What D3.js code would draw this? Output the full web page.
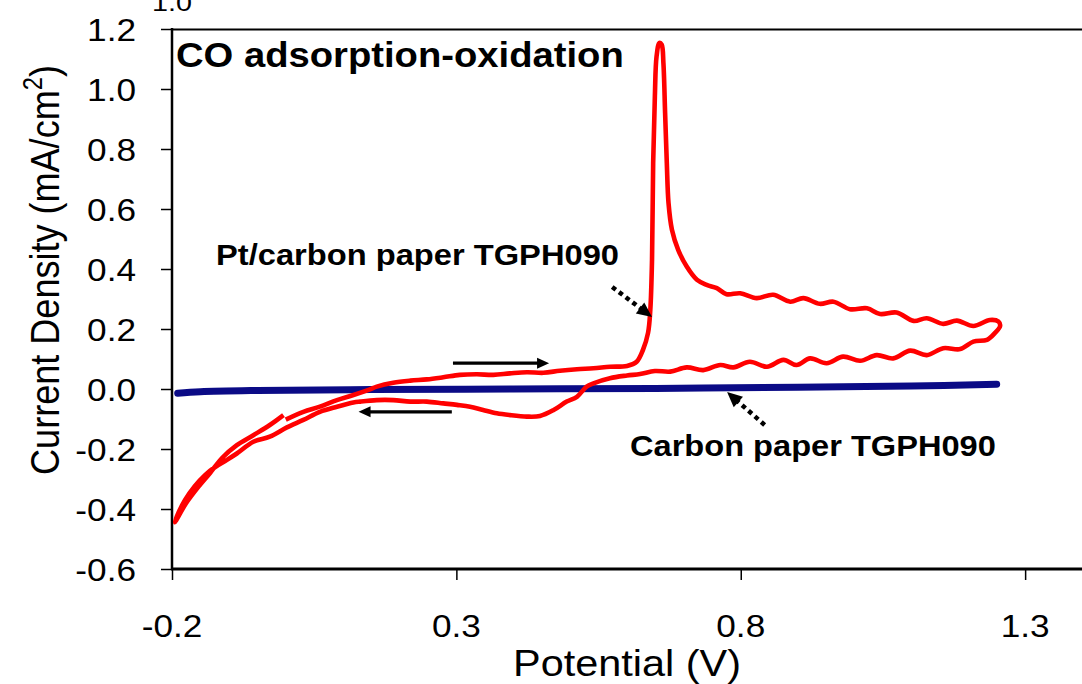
<!DOCTYPE html>
<html><head><meta charset="utf-8">
<script src="https://cdn.jsdelivr.net/npm/d3@7"></script>
<style>
body{margin:0;background:#fff}
svg{display:block}
text{font-family:"Liberation Sans",Arial,sans-serif;fill:#000}
</style>
</head><body>
<svg id="c" width="1082" height="684"></svg>
<script>
// ---------- data ----------
const yTicks = [-0.6,-0.4,-0.2,0.0,0.2,0.4,0.6,0.8,1.0,1.2];
const yTickLabels = ["-0.6","-0.4","-0.2","0.0","0.2","0.4","0.6","0.8","1.0","1.2"];
const xTicks = [-0.2,0.3,0.8,1.3];
const xTickLabels = ["-0.2","0.3","0.8","1.3"];

// Carbon paper TGPH090 (blank)
const carbonV = [-0.19,-0.15,-0.05,0.15,0.40,0.65,0.90,1.10,1.25];
const carbonI = [-0.014,-0.009,-0.005,-0.002,0.000,0.002,0.006,0.010,0.016];

// Pt/carbon paper TGPH090 — CO stripping voltammogram, in scan order
const ptV = [0.000,0.031,0.060,0.090,0.119,0.148,0.160,0.189,0.219,0.248,0.277,0.306,0.336,0.365,0.394,0.424,0.453,0.482,0.512,0.541,0.570,0.600,0.617,0.628,0.637,0.641,0.644,0.646,0.649,0.652,0.657,0.661,0.664,0.667,0.670,0.673,0.679,0.690,0.705,0.723,0.740,0.758,0.775,0.799,0.828,0.857,0.887,0.910,0.939,0.963,0.992,1.022,1.045,1.074,1.104,1.127,1.156,1.180,1.209,1.238,1.253,1.256,1.247,1.233,1.209,1.186,1.156,1.127,1.098,1.068,1.039,1.010,0.980,0.951,0.922,0.898,0.875,0.846,0.816,0.787,0.764,0.734,0.705,0.676,0.649,0.623,0.600,0.570,0.541,0.529,0.512,0.494,0.471,0.447,0.424,0.394,0.371,0.347,0.324,0.301,0.277,0.248,0.219,0.189,0.160,0.131,0.119,0.090,0.060,0.031,0.002,-0.028,-0.057,-0.086,-0.104,-0.124,-0.142,-0.160,-0.177,-0.189,-0.195,-0.175,-0.154,-0.133,-0.112,-0.086,-0.057,-0.028,-0.004];
const ptI = [-0.102,-0.076,-0.059,-0.037,-0.020,-0.001,0.008,0.021,0.028,0.032,0.039,0.047,0.049,0.047,0.052,0.056,0.054,0.061,0.066,0.069,0.074,0.077,0.091,0.130,0.187,0.264,0.431,0.753,0.976,1.109,1.154,1.148,1.087,0.920,0.753,0.620,0.531,0.464,0.408,0.364,0.347,0.336,0.316,0.319,0.303,0.314,0.291,0.303,0.284,0.291,0.266,0.269,0.250,0.255,0.227,0.236,0.217,0.228,0.210,0.230,0.225,0.210,0.187,0.164,0.158,0.133,0.136,0.113,0.128,0.102,0.113,0.094,0.108,0.086,0.102,0.080,0.097,0.074,0.091,0.072,0.080,0.063,0.072,0.058,0.060,0.050,0.045,0.036,0.019,0.008,-0.026,-0.042,-0.070,-0.090,-0.092,-0.087,-0.081,-0.070,-0.059,-0.053,-0.048,-0.042,-0.042,-0.037,-0.037,-0.042,-0.045,-0.059,-0.076,-0.103,-0.128,-0.159,-0.176,-0.215,-0.237,-0.260,-0.287,-0.324,-0.370,-0.414,-0.444,-0.380,-0.327,-0.280,-0.230,-0.187,-0.154,-0.120,-0.087];

// annotation text and anchors (data units)
const titleText = "CO adsorption-oxidation";
const ptLabel = "Pt/carbon paper TGPH090";
const carbonLabel = "Carbon paper TGPH090";
const xTitle = "Potential (V)";
const yTitleMain = "Current Density (mA/cm";
const yTitleSup = "2";
const yTitleEnd = ")";
const strayLabel = "1.0";
const scanArrowFrom = [[0.294,0.086],[0.292,-0.076]];
const scanArrowTo   = [[0.463,0.086],[0.128,-0.076]];
const pointerFrom = [[0.574,0.340],[0.842,-0.120]];
const pointerTo   = [[0.644,0.240],[0.776,-0.010]];

// ---------- chart ----------
const svg = d3.select("#c");
const x = d3.scaleLinear().domain([-0.2,1.4]).range([172,1082]);
const y = d3.scaleLinear().domain([-0.6,1.2]).range([569,29]);

function addText(parts, o) {
  const g = svg.append("g").attr("transform", `translate(${o.x},${o.y})` + (o.rotate ? ` rotate(${o.rotate})` : ""));
  const t = g.append("text").attr("text-anchor", o.anchor || "start")
    .style("font-size", o.size + "px").style("font-weight", o.weight || "normal");
  if (typeof parts === "string") t.text(parts);
  else {
    t.append("tspan").text(parts[0]);
    t.append("tspan").attr("dy", -o.size*0.42).style("font-size", (o.size*0.66)+"px").text(parts[1]);
    t.append("tspan").attr("dy", o.size*0.42).text(parts[2]);
  }
  const w = t.node().getBBox().width;
  const sx = o.width ? o.width / w : (o.sx || 1);
  t.attr("transform", `scale(${sx},${o.sy || 1})`);
  return t;
}

// axes ticks
const yAxis = d3.axisLeft(y).tickValues(yTicks).tickSize(11).tickFormat("");
const gy = svg.append("g").attr("transform","translate(172,0)").call(yAxis);
gy.select(".domain").remove();
gy.selectAll(".tick line").attr("stroke","#000").attr("stroke-width",1.5);

const xAxis = d3.axisBottom(x).tickValues(xTicks).tickSize(11).tickFormat("");
const gx = svg.append("g").attr("transform","translate(0,569)").call(xAxis);
gx.select(".domain").remove();
gx.selectAll(".tick line").attr("stroke","#000").attr("stroke-width",1.5);

// tick labels
yTicks.forEach((v,k) => addText(yTickLabels[k], {x:136, y:y(v)+12, size:32, anchor:"end", sx:1.1}));
xTicks.forEach((v,k) => addText(xTickLabels[k], {x:x(v), y:637, size:32, anchor:"middle", sx:1.1}));

// frame
svg.append("line").attr("x1",172).attr("x2",172).attr("y1",28).attr("y2",570).attr("stroke","#000").attr("stroke-width",2.5);
svg.append("line").attr("x1",171).attr("x2",1082).attr("y1",29.5).attr("y2",29.5).attr("stroke","#000").attr("stroke-width",2.2);
svg.append("line").attr("x1",171).attr("x2",1082).attr("y1",569).attr("y2",569).attr("stroke","#000").attr("stroke-width",3);

// series
const line = d3.line().x(d => x(d[0])).y(d => y(d[1])).curve(d3.curveCatmullRom.alpha(0.5));
svg.append("path").datum(carbonV.map((v,k)=>[v,carbonI[k]]))
  .attr("d", line).attr("fill","none").attr("stroke","#0b0b86").attr("stroke-width",7).attr("stroke-linecap","round");
svg.append("path").datum(ptV.map((v,k)=>[v,ptI[k]]))
  .attr("d", line).attr("fill","none").attr("stroke","#ff0000").attr("stroke-width",4.6).attr("stroke-linejoin","round");

// arrows
function arrow(from, to, o) {
  const x1 = x(from[0]), y1 = y(from[1]), x2 = x(to[0]), y2 = y(to[1]);
  const dx = x2-x1, dy = y2-y1, L = Math.hypot(dx,dy), ux = dx/L, uy = dy/L;
  const bx = x2 - ux*o.head, by = y2 - uy*o.head;
  const l = svg.append("line").attr("x1",x1).attr("y1",y1).attr("x2",bx+ux*1).attr("y2",by+uy*1)
    .attr("stroke","#000").attr("stroke-width",o.w);
  if (o.dash) l.attr("stroke-dasharray",o.dash);
  svg.append("path").attr("d",`M${x2},${y2}L${bx-uy*o.half},${by+ux*o.half}L${bx+uy*o.half},${by-ux*o.half}Z`).attr("fill","#000");
}
scanArrowFrom.forEach((f,k)=>arrow(f, scanArrowTo[k], {w:3.2, head:12, half:5.5}));
pointerFrom.forEach((f,k)=>arrow(f, pointerTo[k], {w:4.5, head:15, half:7, dash:"4.5,4"}));

// annotations
addText(titleText, {x:176, y:67, size:35, weight:"bold", width:448});
addText(ptLabel, {x:216, y:265, size:30, weight:"bold", width:403});
addText(carbonLabel, {x:630, y:456, size:30, weight:"bold", width:366});

// axis titles
addText(xTitle, {x:627, y:676, size:37, anchor:"middle", width:228});
addText([yTitleMain, yTitleSup, yTitleEnd], {x:59, y:270, size:36, anchor:"middle", rotate:-90, width:410, sy:1.14});

// stray label at the top edge
addText(strayLabel, {x:152, y:11, size:24, width:40});
</script>
</body></html>
